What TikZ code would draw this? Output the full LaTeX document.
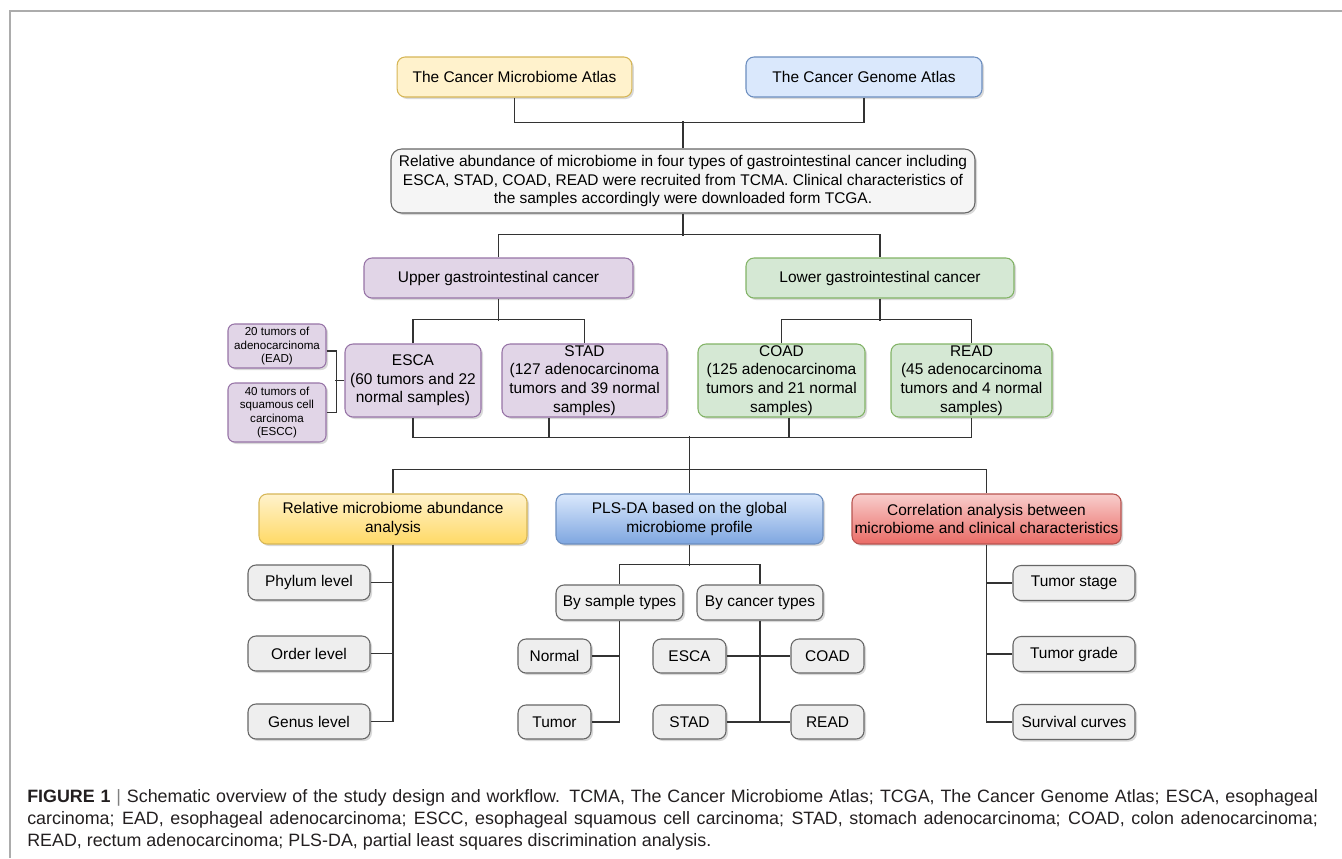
\documentclass[tikz,border=0pt]{standalone}
\usepackage{fontspec}
\setmainfont{Liberation Sans}
\usepackage{tikz}
\usetikzlibrary{shadows}
\definecolor{ylwfill}{HTML}{FFF2CC}
\definecolor{ylwdraw}{HTML}{D6B656}
\definecolor{ylwdeep}{HTML}{FFD966}
\definecolor{bluefill}{HTML}{DAE8FC}
\definecolor{bluedraw}{HTML}{6C8EBF}
\definecolor{bluedeep}{HTML}{7EA6E0}
\definecolor{redfill}{HTML}{F8CECC}
\definecolor{reddraw}{HTML}{B85450}
\definecolor{reddeep}{HTML}{EA6B66}
\definecolor{grayfill}{HTML}{EEEEEE}
\definecolor{graydraw}{HTML}{666666}
\definecolor{purpfill}{HTML}{E1D5E7}
\definecolor{purpdraw}{HTML}{9673A6}
\definecolor{grnfill}{HTML}{D5E8D4}
\definecolor{grndraw}{HTML}{82B366}
\definecolor{linkgray}{HTML}{333333}
\definecolor{captext}{HTML}{231F20}
\tikzset{box/.style={draw, rounded corners=6pt, align=center, inner sep=0.5pt,
  line width=0.8pt, font=\fontsize{11.6}{14}\selectfont,
  drop shadow={shadow xshift=1.5pt, shadow yshift=-1.5pt, opacity=0.3}},
  grey/.style={box, fill=grayfill, draw=graydraw},
  purp/.style={box, fill=purpfill, draw=purpdraw},
  grn/.style={box, fill=grnfill, draw=grndraw},
  small/.style={font=\fontsize{8.7}{10.1}\selectfont, rounded corners=5pt},
  link/.style={draw=linkgray, line width=1pt}}
\newcommand{\capline}[1]{\makebox[968pt][s]{#1}}

\begin{document}
\begin{tikzpicture}[x=0.75pt, y=-0.75pt]
  \useasboundingbox (0,0) rectangle (1342,858);
  % frame of the figure
  \draw[gray!65, line width=1.5pt] (9.5,858) |- (1342,10.5);
  % sources
  \node[box, fill=ylwfill, draw=ylwdraw, minimum width=176pt, minimum height=30pt]
    (tcma) at (514.5,77) {The Cancer Microbiome Atlas};
  \node[box, fill=bluefill, draw=bluedraw, minimum width=177pt, minimum height=30pt]
    (tcga) at (864,77) {The Cancer Genome Atlas};
  \node[grey, fill=gray!8, minimum width=438pt, minimum height=48pt, rounded corners=8pt]
    (atlas) at (683,181) {Relative abundance of microbiome in four types of gastrointestinal cancer including\\
    ESCA, STAD, COAD, READ were recruited from TCMA. Clinical characteristics of\\
    the samples accordingly were downloaded form TCGA.};
  % cancer groups
  \node[purp, minimum width=201.75pt, minimum height=30pt] (upper) at (498.5,278)
    {Upper gastrointestinal cancer};
  \node[grn, minimum width=201pt, minimum height=30pt] (lower) at (880,278)
    {Lower gastrointestinal cancer};
  \node[purp, minimum width=102pt, minimum height=54.75pt] (esca) at (413,380.5)
    {ESCA\\(60 tumors and 22\\normal samples)};
  \node[purp, minimum width=123.75pt, minimum height=54.75pt] (stad) at (584.5,380.5)
    {STAD\\(127 adenocarcinoma\\tumors and 39 normal\\samples)};
  \node[grn, minimum width=125.25pt, minimum height=54.75pt] (coad) at (781.5,380.5)
    {COAD\\(125 adenocarcinoma\\tumors and 21 normal\\samples)};
  \node[grn, minimum width=120.75pt, minimum height=54.75pt] (read) at (971.5,380.5)
    {READ\\(45 adenocarcinoma\\tumors and 4 normal\\samples)};
  \node[purp, small, minimum width=73.5pt, minimum height=33pt] (ead) at (277,346)
    {20 tumors of\\adenocarcinoma\\(EAD)};
  \node[purp, small, minimum width=73.5pt, minimum height=44.25pt] (escc) at (277,412.5)
    {40 tumors of\\squamous cell\\carcinoma\\(ESCC)};
  % analyses
  \node[box, top color=ylwfill, bottom color=ylwdeep, draw=ylwdraw,
    minimum width=201pt, minimum height=37.5pt] (rel) at (393,519)
    {Relative microbiome abundance\\analysis};
  \node[box, top color=bluefill, bottom color=bluedeep, draw=bluedraw,
    minimum width=200.25pt, minimum height=37.5pt] (pls) at (689.5,519)
    {PLS-DA based on the global\\microbiome profile};
  \node[box, top color=redfill, bottom color=reddeep, draw=reddraw,
    minimum width=201.75pt, minimum height=37.5pt] (corr) at (986.5,519)
    {Correlation analysis between\\microbiome and clinical characteristics};
  \node[grey, minimum width=91.5pt, minimum height=26.25pt] (phylum) at (309,582.5) {Phylum level};
  \node[grey, minimum width=91.5pt, minimum height=26.25pt] (order) at (309,653.5) {Order level};
  \node[grey, minimum width=91.5pt, minimum height=26.25pt] (genus) at (309,721.5) {Genus level};
  \node[grey, minimum width=95.25pt, minimum height=26.25pt] (bysample) at (619.5,602.5) {By sample types};
  \node[grey, minimum width=94.5pt, minimum height=26.25pt] (bycancer) at (760,602.5) {By cancer types};
  \node[grey, minimum width=54.75pt, minimum height=25.5pt] (normal) at (554.5,656) {Normal};
  \node[grey, minimum width=54.75pt, minimum height=25.5pt] (tumor) at (554.5,722) {Tumor};
  \node[grey, minimum width=54.75pt, minimum height=25.5pt] (escab) at (689.5,656) {ESCA};
  \node[grey, minimum width=54.75pt, minimum height=25.5pt] (stadb) at (689.5,722) {STAD};
  \node[grey, minimum width=54.75pt, minimum height=25.5pt] (coadb) at (827.5,656) {COAD};
  \node[grey, minimum width=54.75pt, minimum height=25.5pt] (readb) at (827.5,722) {READ};
  \node[grey, minimum width=91.5pt, minimum height=26.25pt] (tstage) at (1074,583) {Tumor stage};
  \node[grey, minimum width=91.5pt, minimum height=26.25pt] (tgrade) at (1074,654) {Tumor grade};
  \node[grey, minimum width=91.5pt, minimum height=26.25pt] (surv) at (1074,722) {Survival curves};
  % tree connectors
  \draw[link] (tcma.south) -- ++(0,25) -| (tcga.south);
  \draw[link] (atlas.north) -- ++(0,-27);
  \draw[link] (atlas.south) -- ++(0,22);
  \draw[link] (upper.north) -- ++(0,-23) -| (lower.north);
  \draw[link] (upper.south) -- ++(0,22);
  \draw[link] (lower.south) -- ++(0,22);
  \draw[link] (esca.north) -- ++(0,-24) -| (stad.north);
  \draw[link] (coad.north) -- ++(0,-24) -| (read.north);
  \draw[link] ([yshift=-3.75pt]ead.east) -- ++(10,0) |- (escc.east);
  \draw[link] (esca.west) -- ++(-9,0);
  \draw[link] (esca.south) -- ++(0,20) -| (read.south);
  \draw[link] ([xshift=-26.6pt]stad.south) -- ++(0,20);
  \draw[link] ([xshift=5.6pt]coad.south) -- ++(0,20);
  \draw[link] (pls.north) -- ++(0,-57);
  \draw[link] (rel.north) -- ++(0,-24) -| (corr.north);
  \draw[link] (rel.south) |- (genus.east);
  \foreach \n in {phylum,order} \draw[link] (\n.east) -- (\n.east -| rel.south);
  \draw[link] (pls.south) -- ++(0,21);
  \draw[link] (bysample.north) -- ++(0,-20) -| (bycancer.north);
  \draw[link] (bysample.south) |- (tumor.east);
  \draw[link] (normal.east) -- (normal.east -| bysample.south);
  \draw[link] (escab.east) -- (coadb.west);
  \draw[link] (stadb.east) -- (readb.west);
  \draw[link] (bycancer.south) -- (bycancer.south |- readb.west);
  \draw[link] (corr.south) |- (surv.west);
  \foreach \n in {tstage,tgrade} \draw[link] (\n.west) -- (\n.west -| corr.south);
  % caption
  \node[anchor=north west, align=left, inner sep=0pt, text=captext,
    font=\fontsize{13.4}{16.5}\selectfont] (caption) at (27,789)
    {\capline{\textbf{FIGURE 1} {\color{gray}|} Schematic overview of the study design and workflow. TCMA, The Cancer Microbiome Atlas; TCGA, The Cancer Genome Atlas; ESCA, esophageal}\\
    \capline{carcinoma; EAD, esophageal adenocarcinoma; ESCC, esophageal squamous cell carcinoma; STAD, stomach adenocarcinoma; COAD, colon adenocarcinoma;}\\
    READ, rectum adenocarcinoma; PLS-DA, partial least squares discrimination analysis.};
\end{tikzpicture}
\end{document}
